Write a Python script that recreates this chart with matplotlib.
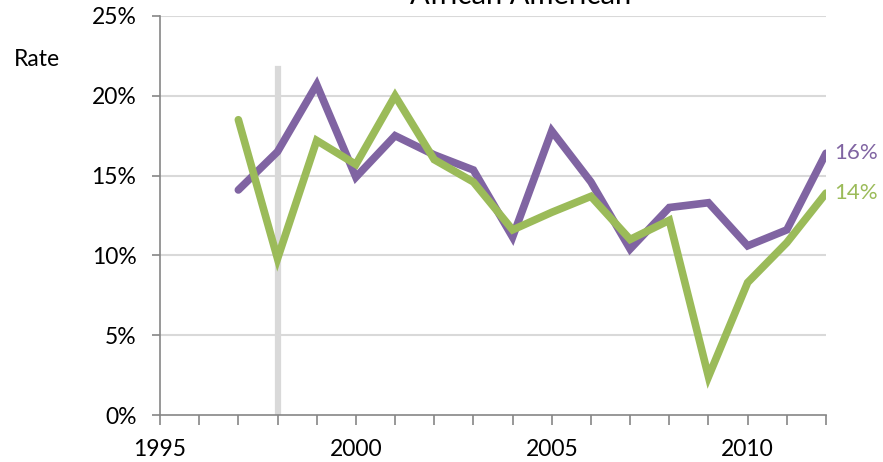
import numpy as np
import matplotlib.pyplot as plt
from matplotlib.ticker import FuncFormatter, MultipleLocator

plt.rcParams['font.family'] = ['Lato', 'DejaVu Sans']

years = [1997, 1998, 1999, 2000, 2001, 2002, 2003, 2004,
         2005, 2006, 2007, 2008, 2009, 2010, 2011, 2012]
purple = [14.1, 16.5, 20.7, 14.9, 17.5, 16.3, 15.35, 11.15,
          17.8, 14.6, 10.4, 13.0, 13.3, 10.6, 11.6, 16.4]
green = [18.5, 9.8, 17.2, 15.7, 20.0, 16.0, 14.6, 11.6,
         12.7, 13.7, 11.0, 12.2, 2.4, 8.3, 10.8, 13.9]
marker_year = 1998
marker_top = 21.7

c_purple = '#8064a2'
c_green = '#9bbb59'

fig = plt.figure(figsize=(8.83, 4.62), dpi=100)
ax = fig.add_axes([160/883, 1-415/462, (826-160)/883, (415-16)/462])

for y in range(5, 26, 5):
    ax.axhline(y, color='#d9d9d9', lw=1.5, zorder=0)
ax.plot([marker_year, marker_year], [0, marker_top], color='#d9d9d9', lw=4.5, zorder=1)

ax.plot(years, purple, color=c_purple, lw=5.5, solid_capstyle='round', solid_joinstyle='miter', zorder=3)
ax.plot(years, green, color=c_green, lw=5.5, solid_capstyle='round', solid_joinstyle='miter', zorder=3)

ax.text(years[-1] + 0.22, purple[-1], '%d%%' % round(purple[-1]), color=c_purple,
        fontsize=16, va='center', ha='left')
ax.text(years[-1] + 0.22, green[-1], '%d%%' % round(green[-1]), color=c_green,
        fontsize=16, va='center', ha='left')

ax.set_xlim(1995, 2012)
ax.set_ylim(0, 25)
ax.xaxis.set_major_locator(MultipleLocator(5))
ax.xaxis.set_minor_locator(MultipleLocator(1))
ax.yaxis.set_major_locator(MultipleLocator(5))
ax.yaxis.set_major_formatter(FuncFormatter(lambda v, p: '%d%%' % v))

for s in ['top', 'right']:
    ax.spines[s].set_visible(False)
for s in ['left', 'bottom']:
    ax.spines[s].set_color('#868686')
    ax.spines[s].set_linewidth(1.2)
# x ticks point down below axis
ax.tick_params(axis='x', which='both', direction='out', length=7, color='#868686', width=1.2,
               labelsize=16.5, pad=10)
ax.tick_params(axis='y', which='major', direction='out', length=6, color='#868686', width=1.2,
               labelsize=16.5, pad=11)

fig.text(14/883, 1-60/462, 'Rate', fontsize=16.5, va='center', ha='left')
fig.text(521/883, 1-(-4)/462, 'African American', fontsize=21, va='center', ha='center')

fig.savefig('out.png', dpi=100)
